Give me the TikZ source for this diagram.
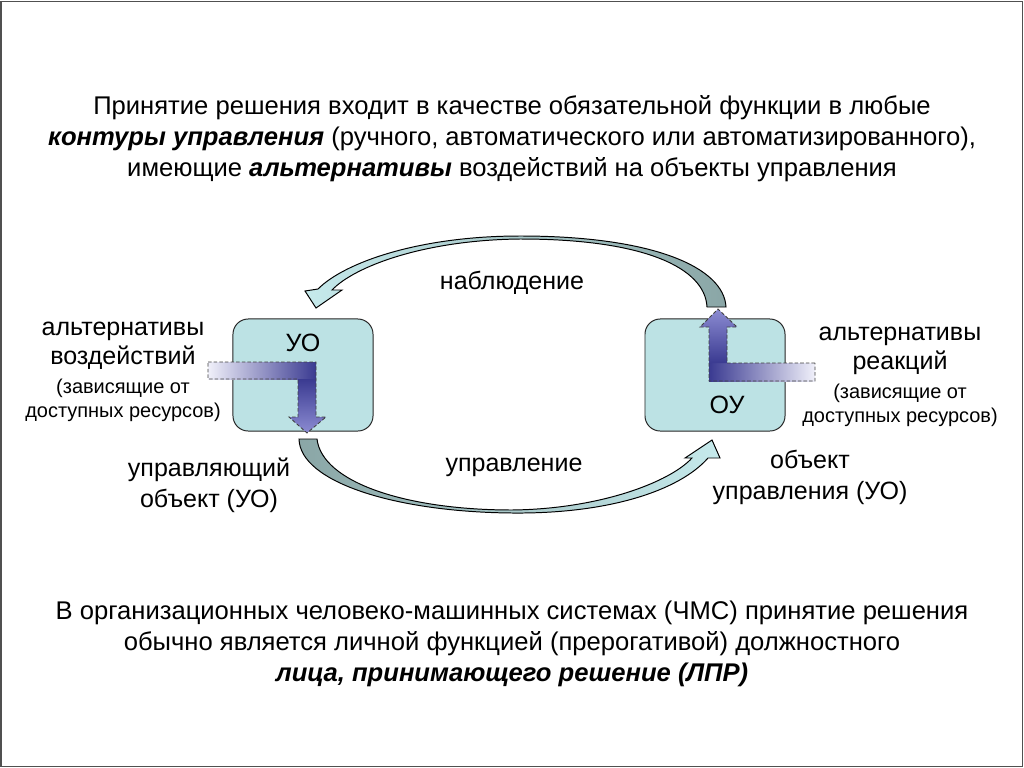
\documentclass[tikz,border=0pt]{standalone}
\usepackage{fontspec}
\setmainfont{Liberation Sans}
\usetikzlibrary{positioning}
\definecolor{boxfill}{RGB}{188,226,228}
\definecolor{arrlight}{RGB}{198,234,236}
\definecolor{arrdark}{RGB}{138,166,166}
\definecolor{navy}{RGB}{58,58,145}
\definecolor{lavlight}{RGB}{240,240,250}
\definecolor{lavtip}{RGB}{140,140,210}
\definecolor{framegray}{RGB}{80,80,80}
\begin{document}
\begin{tikzpicture}[
    x=0.025cm, y=-0.025cm,
    every node/.style={font=\fontsize{17.8}{22}\selectfont, align=center, inner sep=0pt},
    bigtxt/.style={font=\fontsize{18.2}{22}\selectfont},
    smalltxt/.style={font=\fontsize{14.2}{17}\selectfont},
    ctrlbox/.style={draw=black!85, line width=0.7pt, rounded corners=0.38cm, fill=boxfill,
        minimum width=3.5cm, minimum height=2.8cm},
    bendarrow/.style={draw=black, line width=0.7pt},
    altarrow/.style={draw=black!75, dash pattern=on 2.5pt off 1.5pt, line width=0.6pt}
]
\useasboundingbox (0,0) rectangle (1024,768);
\draw[framegray, line width=1.2pt] (1,1.5) rectangle (1022.5,766.5);

% header and footer text
\node[bigtxt] (head) at (512,139) {Принятие решения входит в качестве обязательной функции в любые\\
    \textbf{\textit{контуры управления}} (ручного, автоматического или автоматизированного),\\
    имеющие \textbf{\textit{альтернативы}} воздействий на объекты управления};
\node[bigtxt] (foot) at (512,644) {В организационных человеко-машинных системах (ЧМС) принятие решения\\
    обычно является личной функцией (прерогативой) должностного\\
    \textbf{\textit{лица, принимающего решение (ЛПР)}}};

% curved arrows
\coordinate (obsEnd) at (316,308);
\coordinate (ctlEnd) at (712,440);
\shade[bendarrow, left color=arrlight, middle color=arrlight, right color=arrdark]
    (726,307) .. controls (724,268) and (655,236) .. (520,236)
    .. controls (420,236) and (345,262) .. (318,289)
    -- (305,291) -- (obsEnd) -- (342,290) -- (332,290)
    .. controls (355,266) and (425,240) .. (520,239)
    .. controls (645,239) and (705,268) .. (707,307) -- cycle;
\shade[bendarrow, left color=arrdark, middle color=arrlight, right color=arrlight]
    (299,439) .. controls (300,482) and (395,512) .. (512,513)
    .. controls (610,514) and (680,490) .. (708,458)
    -- (720,458) -- (ctlEnd) -- (685,458) -- (692,458)
    .. controls (670,482) and (600,509) .. (512,510)
    .. controls (405,510) and (322,482) .. (317,439) -- cycle;
\node (obs) at (512,283) {наблюдение};
\node (ctl) at (514,467) {управление};

% boxes
\node[ctrlbox] (uo) at (303,375) {};
\node (uoName) at (303,343) {УО};
\node[ctrlbox] (ou) at (715,375) {};
\node (ouName) at (727,405) {ОУ};

% alternatives
\shade[left color=lavlight, right color=navy] (208,362) rectangle (316,379);
\shade[top color=navy, bottom color=lavtip]
    (298,379) -- (316,379) -- (316,417) -- (326,417) -- (307,433) -- (289,417) -- (298,417) -- cycle;
\draw[altarrow] (208,362) -- (316,362) -- (316,417) -- (326,417) -- (307,433)
    -- (289,417) -- (298,417) -- (298,379) -- (208,379) -- cycle;
\shade[left color=navy, right color=lavlight] (709,363) rectangle (815,381);
\shade[bottom color=navy, top color=lavtip]
    (709,363) -- (727,363) -- (727,327) -- (737,327) -- (718,309) -- (700,327) -- (709,327) -- cycle;
\draw[altarrow] (815,363) -- (727,363) -- (727,327) -- (737,327) -- (718,309)
    -- (700,327) -- (709,327) -- (709,381) -- (815,381) -- cycle;

% side labels
\node[font=\fontsize{17.8}{20.6}\selectfont] (altL) at (123,346) {альтернативы\\воздействий};
\node[smalltxt] (depL) at (123,400) {(зависящие от\\доступных ресурсов)};
\node[font=\fontsize{17.8}{20.6}\selectfont] (altR) at (900,351) {альтернативы\\реакций};
\node[smalltxt] (depR) at (900,405) {(зависящие от\\доступных ресурсов)};
\node (uoText) at (209,485) {управляющий\\объект (УО)};
\node (ouText) at (810,477) {объект\\управления (УО)};
\end{tikzpicture}
\end{document}
